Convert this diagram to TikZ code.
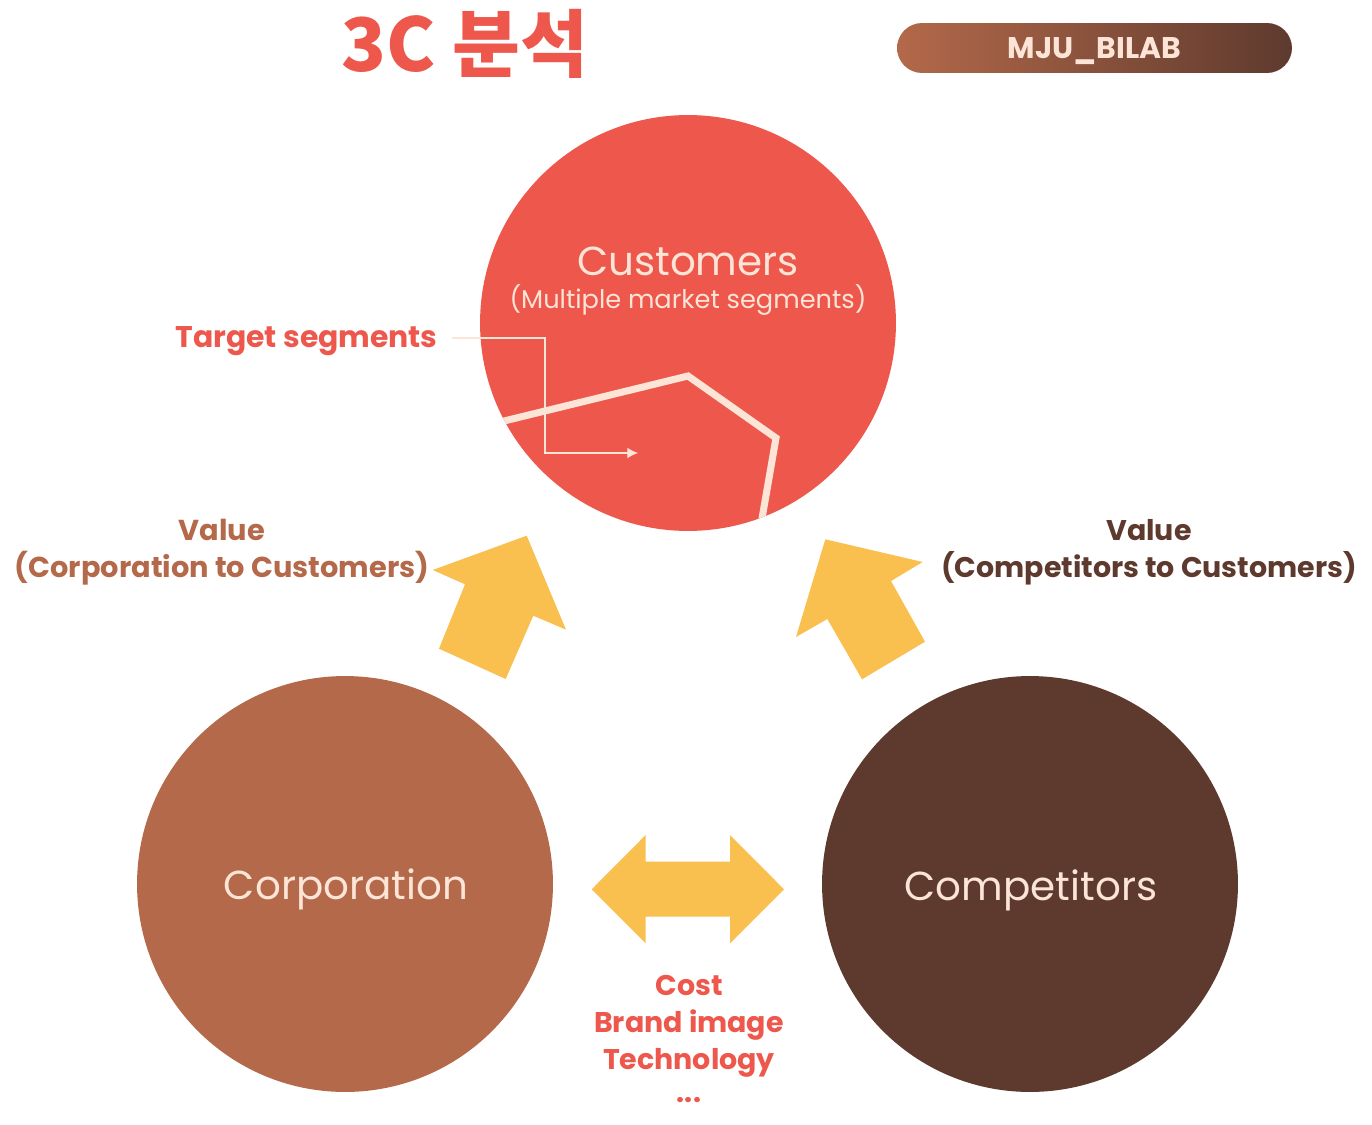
\documentclass[tikz,border=0pt]{standalone}
\usepackage{fontspec}
\setmainfont{Poppins}
\newfontfamily\kr{Noto Sans CJK KR}
\usetikzlibrary{arrows.meta}
\definecolor{cred}{HTML}{EE574C}
\definecolor{ccorp}{HTML}{B3694A}
\definecolor{ccomp}{HTML}{5E3A2E}
\definecolor{cyel}{HTML}{F9BF4F}
\definecolor{ccream}{HTML}{FCE4D6}
\begin{document}
\begin{tikzpicture}[x=0.02cm,y=-0.02cm,
  bigcircle/.style={circle,minimum size=8.32cm,inner sep=0pt},
  circlabel/.style={text=ccream,font=\fontsize{23}{27}\selectfont},
  boldlab/.style={font=\bfseries\fontsize{16.4}{21}\selectfont,inner sep=0pt},
  yarrow/.style={fill=cyel,draw=none},
  thin/.style={draw=ccream,line width=0.6pt}]
\useasboundingbox (0,0) rectangle (1372,1125);
% title
\node[text=cred,font=\kr\bfseries\fontsize{42}{46}\selectfont] (title) at (465,44) {3C 분석};
% badge
\node[minimum width=7.9cm,minimum height=1cm,rounded corners=0.5cm,left color=ccorp,right color=ccomp,
  text=ccream,font=\bfseries\fontsize{17}{19}\selectfont,text height=12pt,text depth=0pt] (badge) at (1094.5,48) {MJU\_BILAB};
% circles
\node[bigcircle,fill=cred] (cust) at (688,323) {};
\node[bigcircle,fill=ccorp] (corp) at (345,884) {};
\node[bigcircle,fill=ccomp] (comp) at (1030,884) {};
% segment line
\begin{scope}
\clip (688,323) circle[radius=4.16cm];
\draw[ccream,line width=4pt] (500,422) -- (688,376) -- (776,438) -- (760,530);
\end{scope}
% circle labels
\node[circlabel] (custlab) at (688,261) {Customers};
\node[text=ccream,font=\fontsize{14.6}{17}\selectfont] (custsub) at (688,300) {(Multiple market segments)};
\node[circlabel] (corplab) at (346,889) {Corporation};
\node[circlabel] (complab) at (1031,890) {Competitors};
% target segments
\node[boldlab,text=cred,anchor=east,font=\bfseries\fontsize{17}{20}\selectfont] (tseg) at (438,341) {Target segments};
\coordinate (tsegend) at (638,453);
\draw[thin,-{Latex[length=6pt,width=6pt]}] ([xshift=8pt]tseg.east |- 0,338) -- (545,338) |- (tsegend);
% value labels
\node[boldlab,text=ccorp,align=center] (vleft) at (222,552) {Value\\(Corporation to Customers)};
\node[boldlab,text=ccomp,align=center,font=\bfseries\fontsize{16.2}{21}\selectfont] (vright) at (1149,552) {Value\\(Competitors to Customers)};
% yellow arrows
\path[yarrow] (526.7,535.7) -- (566,629.7) -- (533.3,615.7) -- (505.7,679) -- (439,648.7) -- (465,584.3) -- (432.7,570) -- cycle;
\path[yarrow] (825.3,539.3) -- (922.7,562) -- (891,581) -- (925,641.7) -- (862,679.3) -- (827.3,619) -- (796,637) -- cycle;
\path[yarrow] (591.7,889.3) -- (645.7,835) -- (645.7,861.7) -- (730,861.7) -- (730,835) -- (784,889.3) -- (730,943.3) -- (730,916.7) -- (645.7,916.7) -- (645.7,943.3) -- cycle;
% factors
\node[boldlab,text=cred,align=center,font=\bfseries\fontsize{16.2}{21}\selectfont] (factors) at (689,1039) {Cost\\Brand image\\Technology\\[-2pt]...};
\end{tikzpicture}
\end{document}
